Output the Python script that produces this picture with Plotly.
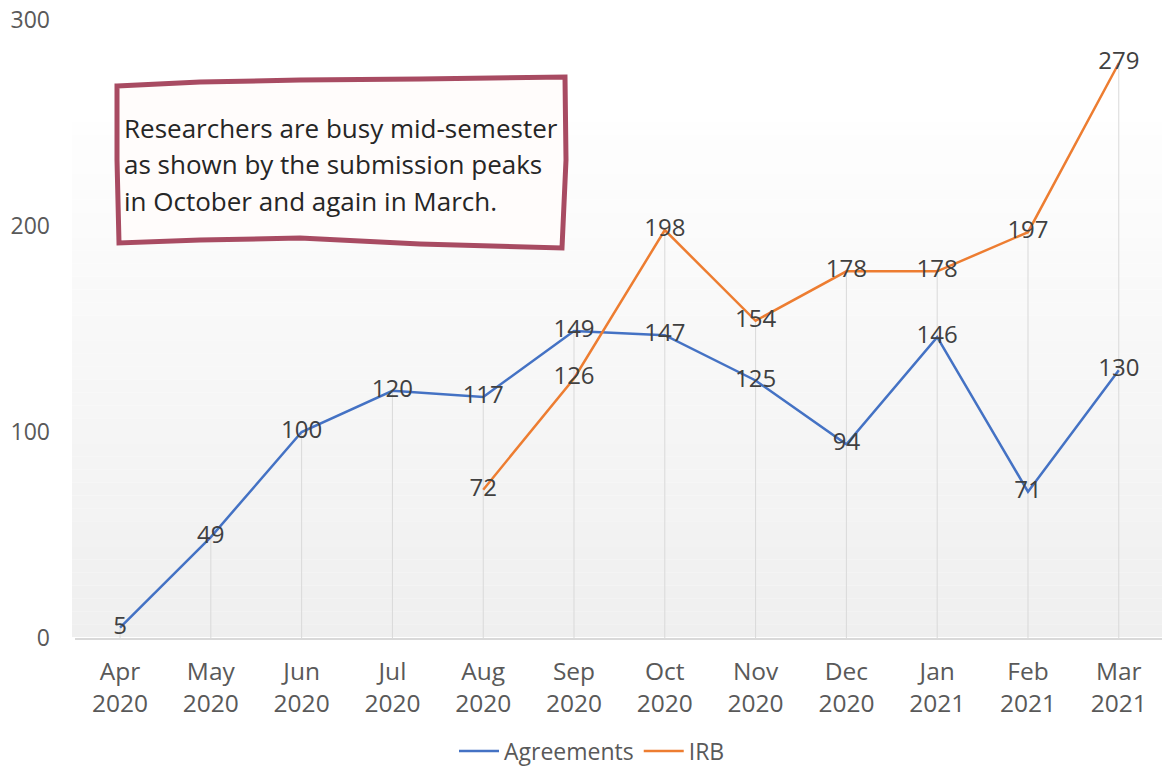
import plotly.graph_objects as go

months = ["Apr", "May", "Jun", "Jul", "Aug", "Sep", "Oct", "Nov", "Dec", "Jan", "Feb", "Mar"]
years = ["2020"] * 9 + ["2021"] * 3
agreements = [5, 49, 100, 120, 117, 149, 147, 125, 94, 146, 71, 130]
irb = [None, None, None, None, 72, 126, 198, 154, 178, 178, 197, 279]
y_ticks = [0, 100, 200, 300]
note_lines = [
    "Researchers are busy mid-semester",
    "as shown by the submission peaks",
    "in October and again in March.",
]

W, H = 1162, 769
L, R, T, B = 75, 0, 20, 131
PW, PH = W - L - R, H - T - B


def px(x):
    return (x - L) / PW


def py(y):
    return (H - B - y) / PH


xs = list(range(len(months)))
ticktext = [f"{m}<br>{y}" for m, y in zip(months, years)]

fig = go.Figure()

# drop lines from highest value down to axis
dx, dy = [], []
for i in xs:
    vals = [v for v in (agreements[i], irb[i]) if v is not None]
    dx += [i, i, None]
    dy += [0, max(vals), None]
fig.add_trace(go.Scatter(x=dx, y=dy, mode="lines", line=dict(color="#d9d9d9", width=1),
                         showlegend=False, hoverinfo="skip"))

lab_font = dict(size=24, color="#404040", family="Open Sans")
fig.add_trace(go.Scatter(x=xs, y=agreements, mode="lines+text", name="Agreements",
                         text=[str(v) for v in agreements], textposition="middle center",
                         textfont=lab_font, line=dict(color="#4472C4", width=2.5)))
fig.add_trace(go.Scatter(x=xs, y=irb, mode="lines+text", name="IRB",
                         text=[("" if v is None else str(v)) for v in irb], textposition="middle center",
                         textfont=lab_font, line=dict(color="#ED7D31", width=2.5)))

# gradient background
shapes = []
n = 40
top_px, bot_px = 122, 637
for k in range(n):
    y0p = top_px + (bot_px - top_px) * k / n
    y1p = top_px + (bot_px - top_px) * (k + 1) / n
    t = (k + 0.5) / n
    c = int(round(254 - (254 - 239) * t))
    shapes.append(dict(type="rect", xref="paper", yref="paper", x0=px(72), x1=px(1162),
                       y0=py(y1p), y1=py(y0p), fillcolor=f"rgb({c},{c},{c})",
                       line=dict(width=0), layer="below"))

# hand-drawn note box
pts = [(117, 86), (200, 82), (300, 80), (420, 79), (565, 77), (566, 160), (562, 248),
       (420, 244), (300, 238), (200, 240), (119, 243), (117, 160), (117, 86)]
path = "M " + " L ".join(f"{px(a):.5f},{py(b):.5f}" for a, b in pts) + " Z"
shapes.append(dict(type="path", xref="paper", yref="paper", path=path,
                   fillcolor="#FFFCFB", line=dict(color="#A84B62", width=5), layer="above"))

annotations = []
for i, line in enumerate(note_lines):
    annotations.append(dict(x=px(122), y=py(128 + i * 36.5), xref="paper", yref="paper",
                            text=line, showarrow=False, xanchor="left", yanchor="middle",
                            font=dict(size=26, color="#262626", family="Open Sans")))

fig.update_layout(
    width=W, height=H,
    margin=dict(l=L, r=R, t=T, b=B, autoexpand=False),
    paper_bgcolor="white", plot_bgcolor="rgba(0,0,0,0)",
    font=dict(family="Open Sans", color="#595959", size=24),
    shapes=shapes, annotations=annotations,
    showlegend=True,
    legend=dict(orientation="h", xref="container", yref="container",
                x=592 / W, y=(H - 751) / H, xanchor="center", yanchor="middle",
                font=dict(size=23, color="#595959"), itemwidth=40, entrywidth=0,
                bgcolor="rgba(0,0,0,0)"),
    xaxis=dict(range=[-0.496, 11.476], tickmode="array", tickvals=xs, ticktext=ticktext,
               showgrid=False, zeroline=False, showline=True, linecolor="#d9d9d9", linewidth=1.5,
               ticks="", tickfont=dict(size=24.5, color="#595959"), ticklabelstandoff=11,
               automargin=False),
    yaxis=dict(range=[0, 300], tickvals=y_ticks, showgrid=False, zeroline=False, showline=False,
               ticks="", tickfont=dict(size=23, color="#595959"), ticklabelstandoff=24,
               automargin=False),
)

fig.write_html("out.html", post_script="document.body.style.margin='0';",
               config={"displayModeBar": False})
